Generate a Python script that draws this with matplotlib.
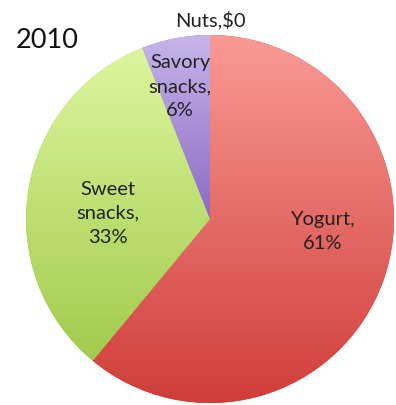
import numpy as np
import matplotlib
matplotlib.use("Agg")
import matplotlib.pyplot as plt
from matplotlib.colors import LinearSegmentedColormap

# snack sales share, 2010
categories = ["Yogurt", "Sweet snacks", "Savory snacks", "Nuts"]
shares = [61, 33, 6, 0]
label_texts = ["Yogurt,\n61%", "Sweet\nsnacks,\n33%", "Savory\nsnacks,\n6%", "Nuts,$0"]
year = "2010"

# gradient colours (top, bottom) per wedge
grad_colors = [("#f99a95", "#d03d39"), ("#ddf59e", "#a2cb4c"),
               ("#c6b5ea", "#8c69c3"), ("#9db7e0", "#5a7fc0")]
# label placement in data units (pie radius = 1)
label_pos = [(0.61, -0.065), (-0.554, 0.038), (-0.163, 0.723), (0.0, 1.087)]

plt.rcParams['font.family'] = ['Lato', 'DejaVu Sans']

fig = plt.figure(figsize=(3.96, 4.06), dpi=100)
ax = fig.add_axes([26 / 396, 2 / 406, 368 / 396, 368 / 406])

wedges, _ = ax.pie(shares, startangle=90, counterclock=False,
                   colors=[c[1] for c in grad_colors],
                   wedgeprops=dict(linewidth=0))

grad = np.linspace(0, 1, 256).reshape(-1, 1)
for w, (top, bottom), val in zip(wedges, grad_colors, shares):
    if val == 0:
        continue
    ext = w.get_path().get_extents()
    cmap = LinearSegmentedColormap.from_list("g", [top, bottom])
    im = ax.imshow(grad, cmap=cmap, origin="upper", aspect="auto",
                   extent=[ext.x0, ext.x1, ext.y0, ext.y1], zorder=w.get_zorder())
    im.set_clip_path(w)

for txt, (x, y) in zip(label_texts, label_pos):
    ax.text(x, y, txt, ha="center", va="center", fontsize=14.5,
            color="#222222", linespacing=1.5, clip_on=False)

ax.set_xlim(-1, 1)
ax.set_ylim(-1, 1)
ax.set_aspect("equal")
ax.axis("off")

fig.text(16 / 396, 1 - 41 / 406, year, fontsize=19.5, va="center", ha="left", color="#111111")

fig.savefig("out.png", dpi=100)
